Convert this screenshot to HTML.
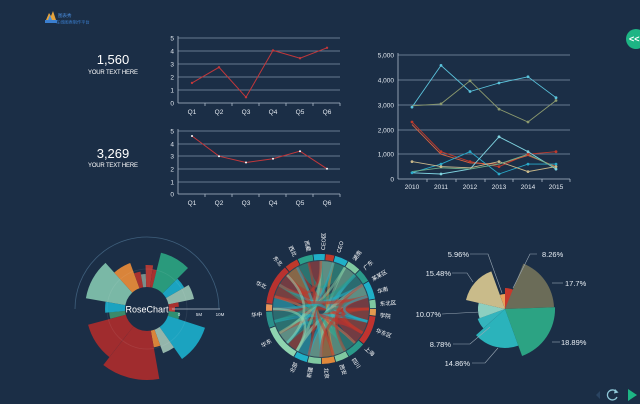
<!DOCTYPE html>
<html><head><meta charset="utf-8"><style>
html,body{margin:0;padding:0;background:#1b2e46;}
svg{display:block;font-family:"Liberation Sans","Noto Sans CJK SC",sans-serif;}
</style></head><body>
<svg width="640" height="404" viewBox="0 0 640 404" xmlns="http://www.w3.org/2000/svg">
<rect width="640" height="404" fill="#1b2e46"/>

<!-- logo -->
<g>
<polygon points="46,20 49,13 51,16 53,11 56,20" fill="#e7a33a"/>
<polygon points="48,20 50,15 52,20" fill="#4a8fd8"/>
<rect x="45" y="20" width="12" height="3" fill="#3b7fd0"/>
<text x="58" y="17" font-size="4.5" fill="#4a8fe0">图表秀</text>
<text x="56" y="23.5" font-size="4.2" fill="#3b7fd0">在线图表制作平台</text>
</g>

<!-- top right button -->
<circle cx="636" cy="39" r="10" fill="#1db584"/>
<text x="629" y="42" font-size="9" fill="#ffffff" font-weight="bold">&lt;&lt;</text>

<!-- KPI texts -->
<text x="113" y="64" font-size="13" fill="#ffffff" text-anchor="middle">1,560</text>
<text x="113" y="74" font-size="6" fill="#ffffff" text-anchor="middle" textLength="50">YOUR TEXT HERE</text>
<text x="113" y="158" font-size="13" fill="#ffffff" text-anchor="middle">3,269</text>
<text x="113" y="167" font-size="6" fill="#ffffff" text-anchor="middle" textLength="50">YOUR TEXT HERE</text>

<!-- Chart 1 -->
<g stroke="#8295aa" stroke-width="0.7">
<line x1="178" y1="38" x2="340" y2="38"/>
<line x1="178" y1="51" x2="340" y2="51"/>
<line x1="178" y1="64" x2="340" y2="64"/>
<line x1="178" y1="77" x2="340" y2="77"/>
<line x1="178" y1="90" x2="340" y2="90"/>
</g>
<g stroke="#aebccb" stroke-width="0.8">
<line x1="178" y1="103" x2="340" y2="103"/>
<line x1="178" y1="36" x2="178" y2="103"/>
<line x1="205" y1="103" x2="205" y2="106"/><line x1="232" y1="103" x2="232" y2="106"/>
<line x1="259" y1="103" x2="259" y2="106"/><line x1="286" y1="103" x2="286" y2="106"/>
<line x1="313" y1="103" x2="313" y2="106"/><line x1="340" y1="103" x2="340" y2="106"/>
</g>
<g font-size="6.5" fill="#e3e9f0" text-anchor="end">
<text x="174" y="40.5">5</text><text x="174" y="53.5">4</text><text x="174" y="66.5">3</text>
<text x="174" y="79.5">2</text><text x="174" y="92.5">1</text><text x="174" y="105.5">0</text>
</g>
<g font-size="6.5" fill="#e3e9f0" text-anchor="middle">
<text x="192" y="114">Q1</text><text x="219" y="114">Q2</text><text x="246" y="114">Q3</text>
<text x="273" y="114">Q4</text><text x="300" y="114">Q5</text><text x="327" y="114">Q6</text>
</g>
<polyline points="192,82.9 219,67.3 246,97.2 273,50.4 300,58.2 327,47.8" fill="none" stroke="#c2373a" stroke-width="1"/>
<g fill="#c2373a">
<circle cx="192" cy="82.9" r="1.2"/><circle cx="219" cy="67.3" r="1.2"/><circle cx="246" cy="97.2" r="1.2"/>
<circle cx="273" cy="50.4" r="1.2"/><circle cx="300" cy="58.2" r="1.2"/><circle cx="327" cy="47.8" r="1.2"/>
</g>

<!-- Chart 2 -->
<g stroke="#8295aa" stroke-width="0.7">
<line x1="178" y1="131" x2="340" y2="131"/>
<line x1="178" y1="144" x2="340" y2="144"/>
<line x1="178" y1="156" x2="340" y2="156"/>
<line x1="178" y1="169" x2="340" y2="169"/>
<line x1="178" y1="182" x2="340" y2="182"/>
</g>
<g stroke="#aebccb" stroke-width="0.8">
<line x1="178" y1="194" x2="340" y2="194"/>
<line x1="178" y1="129" x2="178" y2="194"/>
<line x1="205" y1="194" x2="205" y2="197"/><line x1="232" y1="194" x2="232" y2="197"/>
<line x1="259" y1="194" x2="259" y2="197"/><line x1="286" y1="194" x2="286" y2="197"/>
<line x1="313" y1="194" x2="313" y2="197"/><line x1="340" y1="194" x2="340" y2="197"/>
</g>
<g font-size="6.5" fill="#e3e9f0" text-anchor="end">
<text x="174" y="133.5">5</text><text x="174" y="146.5">4</text><text x="174" y="158.5">3</text>
<text x="174" y="171.5">2</text><text x="174" y="184.5">1</text><text x="174" y="196.5">0</text>
</g>
<g font-size="6.5" fill="#e3e9f0" text-anchor="middle">
<text x="192" y="205">Q1</text><text x="219" y="205">Q2</text><text x="246" y="205">Q3</text>
<text x="273" y="205">Q4</text><text x="300" y="205">Q5</text><text x="327" y="205">Q6</text>
</g>
<polyline points="192,136 219,156.2 246,162.5 273,158.7 300,151.2 327,168.8" fill="none" stroke="#c2373a" stroke-width="1"/>
<g fill="#ffffff">
<circle cx="192" cy="136" r="1"/><circle cx="219" cy="156.2" r="1"/><circle cx="246" cy="162.5" r="1"/>
<circle cx="273" cy="158.7" r="1"/><circle cx="300" cy="151.2" r="1"/><circle cx="327" cy="168.8" r="1"/>
</g>

<!-- Right multi-line chart -->
<g stroke="#8295aa" stroke-width="0.7">
<line x1="398" y1="55" x2="570" y2="55"/>
<line x1="398" y1="80" x2="570" y2="80"/>
<line x1="398" y1="105" x2="570" y2="105"/>
<line x1="398" y1="130" x2="570" y2="130"/>
<line x1="398" y1="154" x2="570" y2="154"/>
</g>
<g stroke="#aebccb" stroke-width="0.8">
<line x1="398" y1="179" x2="570" y2="179"/>
<line x1="398" y1="53" x2="398" y2="179"/>
<line x1="427" y1="179" x2="427" y2="182"/><line x1="456" y1="179" x2="456" y2="182"/>
<line x1="485" y1="179" x2="485" y2="182"/><line x1="513" y1="179" x2="513" y2="182"/>
<line x1="542" y1="179" x2="542" y2="182"/><line x1="570" y1="179" x2="570" y2="182"/>
</g>
<g font-size="6.5" fill="#e3e9f0" text-anchor="end">
<text x="394" y="57.5">5,000</text><text x="394" y="82.5">4,000</text><text x="394" y="107.5">3,000</text>
<text x="394" y="132.5">2,000</text><text x="394" y="156.5">1,000</text><text x="394" y="181.5">0</text>
</g>
<g font-size="6.5" fill="#e3e9f0" text-anchor="middle">
<text x="412" y="189">2010</text><text x="441" y="189">2011</text><text x="470" y="189">2012</text>
<text x="499" y="189">2013</text><text x="528" y="189">2014</text><text x="556" y="189">2015</text>
</g>
<g fill="none" stroke-width="0.9">
<polyline stroke="#5bc4dc" points="412,107.1 441,65.4 470,91.5 499,83 528,76.8 556,97.7"/>
<polyline stroke="#8c9a6e" points="412,105.8 441,103.9 470,80.8 499,109.1 528,122 556,100.5"/>
<polyline stroke="#c0392b" points="412,122 441,151.7 470,161.6 499,166.6 528,154.2 556,151.7"/>
<polyline stroke="#d8603e" points="412,124.5 441,154.2 470,162.9 499,164.1 528,155.5 556,166.6"/>
<polyline stroke="#29a9c9" points="412,172.8 441,164.1 470,151.7 499,174 528,164.1 556,164.1"/>
<polyline stroke="#7fd3e0" points="412,172.8 441,174 470,169.1 499,136.8 528,151.7 556,169.1"/>
<polyline stroke="#c8b88a" points="412,161.6 441,166.6 470,167.8 499,161.6 528,171.6 556,166.6"/>
<polyline stroke="#6fae8a" points="412,171.6 441,167.8 470,169.1 499,164.1 528,154.2 556,167.8"/>
</g>
<g>
<g fill="#5bc4dc"><circle cx="412" cy="107.1" r="1.4"/><circle cx="441" cy="65.4" r="1.4"/><circle cx="470" cy="91.5" r="1.4"/><circle cx="499" cy="83" r="1.4"/><circle cx="528" cy="76.8" r="1.4"/><circle cx="556" cy="97.7" r="1.4"/></g>
<g fill="#8c9a6e"><circle cx="441" cy="103.9" r="1.4"/><circle cx="470" cy="80.8" r="1.4"/><circle cx="499" cy="109.1" r="1.4"/><circle cx="528" cy="122" r="1.4"/><circle cx="556" cy="100.5" r="1.4"/></g>
<g fill="#c0392b"><circle cx="412" cy="122" r="1.4"/><circle cx="441" cy="151.7" r="1.4"/><circle cx="470" cy="161.6" r="1.4"/><circle cx="499" cy="166.6" r="1.4"/><circle cx="528" cy="154.2" r="1.4"/><circle cx="556" cy="151.7" r="1.4"/></g>
<g fill="#29a9c9"><circle cx="412" cy="172.8" r="1.4"/><circle cx="441" cy="164.1" r="1.4"/><circle cx="470" cy="151.7" r="1.4"/><circle cx="499" cy="174" r="1.4"/><circle cx="528" cy="164.1" r="1.4"/><circle cx="556" cy="164.1" r="1.4"/></g>
<g fill="#7fd3e0"><circle cx="441" cy="174" r="1.4"/><circle cx="499" cy="136.8" r="1.4"/><circle cx="528" cy="151.7" r="1.4"/><circle cx="556" cy="169.1" r="1.4"/></g>
<g fill="#c8b88a"><circle cx="412" cy="161.6" r="1.4"/><circle cx="441" cy="166.6" r="1.4"/><circle cx="499" cy="161.6" r="1.4"/><circle cx="528" cy="171.6" r="1.4"/><circle cx="556" cy="166.6" r="1.4"/></g>
</g>

<!-- Rose chart -->
<path d="M75 309 A72 72 0 0 1 219 309" fill="none" stroke="#3f5f7c" stroke-width="0.8"/>
<g>
<path d="M147 309 L134 273.3 A38 38 0 0 1 140.4 271.6 Z" fill="#a8312f"/>
<path d="M147 309 L140.9 274.5 A35 35 0 0 1 145.8 274 Z" fill="#7a8f8c"/>
<path d="M147 309 L145.5 265 A44 44 0 0 1 153.1 265.4 Z" fill="#b03a35"/>
<path d="M147 309 L152.6 269.4 A40 40 0 0 1 156.7 270.2 Z" fill="#a8312f"/>
<path d="M147 309 L161 252.7 A58 58 0 0 1 188 268 Z" fill="#2a9a7c"/>
<path d="M147 309 L177.4 278.6 A43 43 0 0 1 184.2 287.5 Z" fill="#1ba3c0"/>
<path d="M147 309 L188.6 285 A48 48 0 0 1 194 299 Z" fill="#8fb8aa"/>
<path d="M147 309 L178.3 302.3 A32 32 0 0 1 178.9 306.8 Z" fill="#a8312f"/>
<path d="M147 309 L174.9 307 A28 28 0 0 1 174.8 311.9 Z" fill="#c0403a"/>
<path d="M147 309 L179.8 312.4 A33 33 0 0 1 178.4 319.2 Z" fill="#2e8f72"/>
<path d="M147 309 L205 327.8 A61 61 0 0 1 182 359 Z" fill="#1ba3c0"/>
<path d="M147 309 L174 347.5 A47 47 0 0 1 163.1 353.2 Z" fill="#93b5ab"/>
<path d="M147 309 L160.3 345.6 A39 39 0 0 1 153.8 347.4 Z" fill="#d9843a"/>
<path d="M147 309 L159.3 378.9 A71 71 0 0 1 103.3 365 Z" fill="#a02c2e"/>
<path d="M147 309 L109.4 357.1 A61 61 0 0 1 88.1 324.8 Z" fill="#a02c2e"/>
<path d="M147 309 L110.3 318.8 A38 38 0 0 1 109.1 312.3 Z" fill="#3a8a6a"/>
<path d="M147 309 L105.2 312.7 A42 42 0 0 1 105.6 301.7 Z" fill="#1ba3c0"/>
<path d="M147 309 L85.9 298.2 A62 62 0 0 1 105.5 262.9 Z" fill="#7ab8a6"/>
<path d="M147 309 L114.2 272.6 A49 49 0 0 1 130.2 263 Z" fill="#d9843a"/>
</g>
<circle cx="147" cy="309" r="40" fill="none" stroke="#ffffff" stroke-opacity="0.08" stroke-width="0.8"/>
<circle cx="147" cy="309" r="22" fill="#1b2e46"/>
<text x="147" y="312.5" font-size="9" fill="#ffffff" text-anchor="middle">RoseChart</text>
<line x1="172" y1="309" x2="220" y2="309" stroke="#b8c4d0" stroke-width="0.8"/>
<g font-size="4.5" fill="#e3e9f0" text-anchor="middle">
<text x="179" y="316">0</text><text x="199" y="316">5M</text><text x="220" y="316">10M</text>
</g>

<!-- Chord diagram -->
<circle cx="321" cy="309" r="49" fill="#3a5862" fill-opacity="0.6"/>
<g fill-opacity="0.5">
<path d="M369 309 A48 48 0 0 1 367.4 321.4 Q321 309 274.6 296.6 A48 48 0 0 1 279.4 285 Q321 309 369 309 Z" fill="#c0392b"/>
<path d="M367.4 321.4 A48 48 0 0 1 362.6 333 Q321 309 297 350.6 A48 48 0 0 1 287.1 342.9 Q321 309 367.4 321.4 Z" fill="#c0392b"/>
<path d="M362.6 333 A48 48 0 0 1 354.9 342.9 Q321 309 308.6 262.6 A48 48 0 0 1 321 261 Q321 309 362.6 333 Z" fill="#b8322f"/>
<path d="M354.9 342.9 A48 48 0 0 1 345 350.6 Q321 309 279.4 333 A48 48 0 0 1 274.6 321.4 Q321 309 354.9 342.9 Z" fill="#2a9a8a"/>
<path d="M345 350.6 A48 48 0 0 1 333.4 355.4 Q321 309 345 267.4 A48 48 0 0 1 354.9 275.1 Q321 309 345 350.6 Z" fill="#7fc8a0"/>
<path d="M333.4 355.4 A48 48 0 0 1 321 357 Q321 309 287.1 275.1 A48 48 0 0 1 297 267.4 Q321 309 333.4 355.4 Z" fill="#e0883a"/>
<path d="M321 357 A48 48 0 0 1 308.6 355.4 Q321 309 362.6 285 A48 48 0 0 1 367.4 296.6 Q321 309 321 357 Z" fill="#8fd4b0"/>
<path d="M308.6 355.4 A48 48 0 0 1 297 350.6 Q321 309 273 309 A48 48 0 0 1 274.6 296.6 Q321 309 308.6 355.4 Z" fill="#1fb0c8"/>
<path d="M287.1 342.9 A48 48 0 0 1 279.4 333 Q321 309 321 261 A48 48 0 0 1 333.4 262.6 Q321 309 287.1 342.9 Z" fill="#8fd4b0"/>
<path d="M274.6 321.4 A48 48 0 0 1 273 309 Q321 309 354.9 275.1 A48 48 0 0 1 362.6 285 Q321 309 274.6 321.4 Z" fill="#2a8f8a"/>
<path d="M279.4 285 A48 48 0 0 1 287.1 275.1 Q321 309 367.4 296.6 A48 48 0 0 1 369 309 Q321 309 279.4 285 Z" fill="#b8322f"/>
<path d="M297 267.4 A48 48 0 0 1 308.6 262.6 Q321 309 333.4 262.6 A48 48 0 0 1 345 267.4 Q321 309 297 267.4 Z" fill="#2aa08a"/>
</g>
<g fill="none" stroke-opacity="0.55" stroke-linecap="butt">
<path d="M369 309 Q321 309 273 309" stroke="#c0392b" stroke-width="3"/>
<path d="M367.4 321.4 Q321 309 279.4 285" stroke="#1fb0c8" stroke-width="2.5"/>
<path d="M362.6 333 Q321 309 297 267.4" stroke="#c0392b" stroke-width="3"/>
<path d="M354.9 342.9 Q321 309 274.6 296.6" stroke="#7fc8a0" stroke-width="2.5"/>
<path d="M345 350.6 Q321 309 321 261" stroke="#2a9a8a" stroke-width="3"/>
<path d="M333.4 355.4 Q321 309 333.4 262.6" stroke="#e0883a" stroke-width="2.5"/>
<path d="M321 357 Q321 309 345 267.4" stroke="#7fc8a0" stroke-width="2.5"/>
<path d="M308.6 355.4 Q321 309 354.9 275.1" stroke="#1fb0c8" stroke-width="3"/>
<path d="M297 350.6 Q321 309 362.6 285" stroke="#8fd4b0" stroke-width="3"/>
<path d="M287.1 342.9 Q321 309 367.4 296.6" stroke="#2a8f8a" stroke-width="3"/>
<path d="M279.4 333 Q321 309 369 309" stroke="#c0392b" stroke-width="2.5"/>
<path d="M274.6 321.4 Q321 309 367.4 321.4" stroke="#1fb0c8" stroke-width="3"/>
<path d="M273 309 Q321 309 362.6 333" stroke="#b8322f" stroke-width="3"/>
<path d="M274.6 296.6 Q321 309 354.9 342.9" stroke="#c0392b" stroke-width="2.5"/>
<path d="M279.4 285 Q321 309 345 350.6" stroke="#2aa08a" stroke-width="3"/>
<path d="M287.1 275.1 Q321 309 333.4 355.4" stroke="#c0392b" stroke-width="3"/>
<path d="M297 267.4 Q321 309 321 357" stroke="#1fb0c8" stroke-width="2.5"/>
<path d="M308.6 262.6 Q321 309 308.6 355.4" stroke="#c0392b" stroke-width="2.5"/>
<path d="M321 261 Q321 309 297 350.6" stroke="#7fc8a0" stroke-width="2.5"/>
<path d="M333.4 262.6 Q321 309 287.1 342.9" stroke="#1fb0c8" stroke-width="2.5"/>
<path d="M345 267.4 Q321 309 279.4 333" stroke="#7fc8a0" stroke-width="2.5"/>
<path d="M354.9 275.1 Q321 309 274.6 321.4" stroke="#2a9a8a" stroke-width="3"/>
<path d="M362.6 285 Q321 309 273 309" stroke="#1fb0c8" stroke-width="2.5"/>
<path d="M367.4 296.6 Q321 309 274.6 296.6" stroke="#c0392b" stroke-width="3"/>
<path d="M369 309 Q321 309 321 357" stroke="#c0392b" stroke-width="3"/>
<path d="M362.6 333 Q321 309 367.4 296.6" stroke="#c0392b" stroke-width="3"/>
<path d="M367.4 321.4 Q321 309 367.4 296.6" stroke="#1fb0c8" stroke-width="2.5"/>
<path d="M279.4 285 Q321 309 321 261" stroke="#c0392b" stroke-width="2.5"/>
<path d="M287.1 342.9 Q321 309 287.1 275.1" stroke="#8fd4b0" stroke-width="2.5"/>
<path d="M297 350.6 Q321 309 273 309" stroke="#8fd4b0" stroke-width="2.5"/>
<path d="M345 350.6 Q321 309 362.6 285" stroke="#c0392b" stroke-width="3"/>
</g>
<g fill="none" stroke-width="6">
<circle cx="321" cy="309" r="52" stroke="#e39b4f" stroke-dasharray="6.5 330" transform="rotate(0 321 309)"/>
<circle cx="321" cy="309" r="52" stroke="#c0332f" stroke-dasharray="28.2 330" transform="rotate(8 321 309)"/>
<circle cx="321" cy="309" r="52" stroke="#2a9a8a" stroke-dasharray="17.4 330" transform="rotate(40 321 309)"/>
<circle cx="321" cy="309" r="52" stroke="#7fc8a0" stroke-dasharray="12.8 330" transform="rotate(60 321 309)"/>
<circle cx="321" cy="309" r="52" stroke="#e0883a" stroke-dasharray="12.8 330" transform="rotate(75 321 309)"/>
<circle cx="321" cy="309" r="52" stroke="#7fc8a0" stroke-dasharray="12.8 330" transform="rotate(90 321 309)"/>
<circle cx="321" cy="309" r="52" stroke="#1fb0c8" stroke-dasharray="12.8 330" transform="rotate(105 321 309)"/>
<circle cx="321" cy="309" r="52" stroke="#8fd4b0" stroke-dasharray="35.5 330" transform="rotate(120 321 309)"/>
<circle cx="321" cy="309" r="52" stroke="#2a8f8a" stroke-dasharray="15.5 330" transform="rotate(160 321 309)"/>
<circle cx="321" cy="309" r="52" stroke="#e8955a" stroke-dasharray="6.5 330" transform="rotate(178 321 309)"/>
<circle cx="321" cy="309" r="52" stroke="#b8322f" stroke-dasharray="39 330" transform="rotate(186 321 309)"/>
<circle cx="321" cy="309" r="52" stroke="#c0392b" stroke-dasharray="12.8 330" transform="rotate(230 321 309)"/>
<circle cx="321" cy="309" r="52" stroke="#2aa08a" stroke-dasharray="14.6 330" transform="rotate(245 321 309)"/>
<circle cx="321" cy="309" r="52" stroke="#1fb0c8" stroke-dasharray="11 330" transform="rotate(262 321 309)"/>
<circle cx="321" cy="309" r="52" stroke="#c0392b" stroke-dasharray="8.3 330" transform="rotate(275 321 309)"/>
<circle cx="321" cy="309" r="52" stroke="#1fb0c8" stroke-dasharray="12.8 330" transform="rotate(285 321 309)"/>
<circle cx="321" cy="309" r="52" stroke="#7fc8a0" stroke-dasharray="12.8 330" transform="rotate(300 321 309)"/>
<circle cx="321" cy="309" r="52" stroke="#2a9a8a" stroke-dasharray="12.8 330" transform="rotate(315 321 309)"/>
<circle cx="321" cy="309" r="52" stroke="#1fb0c8" stroke-dasharray="17.4 330" transform="rotate(330 321 309)"/>
<circle cx="321" cy="309" r="52" stroke="#7fc8a0" stroke-dasharray="8.3 330" transform="rotate(350 321 309)"/>
</g>
<g font-size="5.5" fill="#ffffff">
<text transform="translate(321 309) rotate(85)" x="59" y="2">北京</text>
<text transform="translate(321 309) rotate(70)" x="59" y="2">西安</text>
<text transform="translate(321 309) rotate(57)" x="59" y="2">四川</text>
<text transform="translate(321 309) rotate(41)" x="59" y="2">上海</text>
<text transform="translate(321 309) rotate(21)" x="59" y="2">华东区</text>
<text transform="translate(321 309) rotate(6)" x="59" y="2">学院</text>
<text transform="translate(321 309) rotate(-5)" x="59" y="2">东北区</text>
<text transform="translate(321 309) rotate(-17)" x="59" y="2">华南</text>
<text transform="translate(321 309) rotate(-30)" x="59" y="2">某某区</text>
<text transform="translate(321 309) rotate(-43)" x="59" y="2">广东</text>
<text transform="translate(321 309) rotate(-56)" x="59" y="2">湖南</text>
<text transform="translate(321 309) rotate(-73)" x="59" y="2">CEO</text>
<text transform="translate(321 309) rotate(-88)" x="59" y="2">CEO区</text>
<text transform="translate(321 309) rotate(78)" x="-59" y="2" text-anchor="end">西藏</text>
<text transform="translate(321 309) rotate(64)" x="-59" y="2" text-anchor="end">西北</text>
<text transform="translate(321 309) rotate(48)" x="-59" y="2" text-anchor="end">东北</text>
<text transform="translate(321 309) rotate(22)" x="-59" y="2" text-anchor="end">华北</text>
<text transform="translate(321 309) rotate(-5)" x="-59" y="2" text-anchor="end">华中</text>
<text transform="translate(321 309) rotate(-32)" x="-59" y="2" text-anchor="end">华东</text>
<text transform="translate(321 309) rotate(-65)" x="-59" y="2" text-anchor="end">北部</text>
<text transform="translate(321 309) rotate(-80)" x="-59" y="2" text-anchor="end">新疆</text>
</g>

<!-- Pie (rose radius) chart -->
<g>
<path d="M505 309 L505 288 A21 21 0 0 1 513.9 290 Z" fill="#c8382c"/>
<path d="M505 309 L523.4 263.6 A49 49 0 0 1 554 307.3 Z" fill="#6b6c58"/>
<path d="M505 309 L555 307.3 A50 50 0 0 1 522.1 356 Z" fill="#2ca383"/>
<path d="M505 309 L518.3 345.6 A39 39 0 0 1 476 335.1 Z" fill="#2bb3bb"/>
<path d="M505 309 L483.4 328.4 A29 29 0 0 1 477.7 318.9 Z" fill="#34b4bd"/>
<path d="M505 309 L479.6 318.2 A27 27 0 0 1 478.7 302.9 Z" fill="#8ccfc0"/>
<path d="M505 309 L466 300 A40 40 0 0 1 491.3 271.4 Z" fill="#c9bb8a"/>
<path d="M505 309 L499.9 294.9 A15 15 0 0 1 505 294 Z" fill="#e9a15a"/>
</g>
<g fill="none" stroke="#9aa8b5" stroke-width="0.6">
<polyline points="470,254 488,254 502,293"/>
<polyline points="537,254 530,254 513,288"/>
<polyline points="552,283 563,283"/>
<polyline points="552,342 560,342"/>
<polyline points="472,363 485,363 498,348"/>
<polyline points="453,344 470,344 490,327"/>
<polyline points="442,314 480,312"/>
<polyline points="452,273 467,273 473,282"/>
</g>
<g font-size="7.5" fill="#e8eef4">
<text x="469" y="257" text-anchor="end">5.96%</text>
<text x="542" y="257">8.26%</text>
<text x="565" y="286">17.7%</text>
<text x="561" y="345">18.89%</text>
<text x="470" y="366" text-anchor="end">14.86%</text>
<text x="451" y="347" text-anchor="end">8.78%</text>
<text x="441" y="317" text-anchor="end">10.07%</text>
<text x="451" y="276" text-anchor="end">15.48%</text>
</g>

<!-- bottom-right controls -->
<polygon points="600,391 596,395 600,399" fill="#2a4462"/>
<path d="M616.5 392 A5 5 0 1 0 617 397" fill="none" stroke="#8fc8d8" stroke-width="1.3"/>
<polygon points="615,389 618.5,392.5 614,393.5" fill="#8fc8d8"/>
<polygon points="628,389 637,395 628,401" fill="#1db584"/>
</svg>
</body></html>
